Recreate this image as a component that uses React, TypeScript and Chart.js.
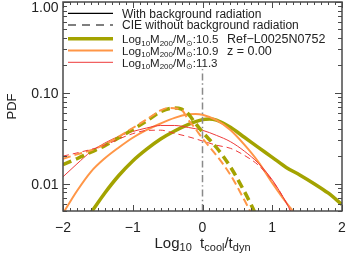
import React, { useEffect, useRef } from "react";
import { Chart, registerables } from "chart.js";
Chart.register(...registerables);

// ---------- data ----------
// thick olive: Log10 M200 = 10.5, with background radiation
const olSolidX = [-1.7, -1.6, -1.4, -1.2, -1.0, -0.8, -0.6, -0.4, -0.2, 0.0, 0.1, 0.2, 0.4, 0.6, 0.8, 1.0, 1.2, 1.4, 1.6, 1.8, 2.0];
const olSolidY = [0.0038, 0.0048, 0.0079, 0.0123, 0.0178, 0.024, 0.031, 0.038, 0.045, 0.0507, 0.0515, 0.050, 0.0417, 0.0324, 0.0251, 0.0195, 0.0151, 0.0124, 0.0100, 0.0079, 0.0059];
// orange: 10.9, with background
const orSolidX = [-2.0, -1.8, -1.6, -1.4, -1.2, -1.0, -0.8, -0.6, -0.4, -0.2, -0.1, 0.0, 0.2, 0.4, 0.6, 0.8, 1.0, 1.2, 1.4];
const orSolidY = [0.0047, 0.0083, 0.0135, 0.019, 0.025, 0.032, 0.039, 0.046, 0.053, 0.058, 0.0586, 0.0575, 0.050, 0.039, 0.0269, 0.0174, 0.0102, 0.0062, 0.004];
// red: 11.3, with background
const rdSolidX = [-2.0, -1.8, -1.6, -1.4, -1.2, -1.0, -0.8, -0.6, -0.4, -0.2, 0.0, 0.2, 0.4, 0.6, 0.8, 1.0, 1.2, 1.3];
const rdSolidY = [0.0119, 0.0165, 0.0225, 0.028, 0.0332, 0.0375, 0.041, 0.0437, 0.0437, 0.0415, 0.0387, 0.034, 0.029, 0.0228, 0.0168, 0.0110, 0.0062, 0.0044];
// CIE without background radiation
const olDashX = [-2.0, -1.8, -1.6, -1.4, -1.2, -1.0, -0.8, -0.6, -0.4, -0.3, -0.2, -0.1, 0.0, 0.2, 0.4, 0.6, 0.7, 0.8];
const olDashY = [0.0162, 0.0188, 0.0222, 0.0262, 0.032, 0.0395, 0.049, 0.062, 0.068, 0.066, 0.058, 0.046, 0.037, 0.025, 0.0153, 0.0082, 0.0058, 0.004];
const orDashX = [-2.0, -1.8, -1.6, -1.4, -1.2, -1.0, -0.8, -0.6, -0.5, -0.4, -0.3, -0.2, -0.1, 0.0, 0.2, 0.4, 0.6, 0.7, 0.8];
const orDashY = [0.0188, 0.021, 0.0233, 0.027, 0.033, 0.041, 0.051, 0.064, 0.068, 0.0675, 0.065, 0.050, 0.040, 0.0315, 0.0205, 0.0125, 0.0066, 0.0047, 0.0032];
const rdDashX = [-2.0, -1.8, -1.6, -1.4, -1.2, -1.0, -0.8, -0.6, -0.4, -0.2, 0.0, 0.2, 0.4, 0.6, 0.8, 1.0, 1.2, 1.3];
const rdDashY = [0.0201, 0.0218, 0.0238, 0.0265, 0.031, 0.0355, 0.0385, 0.0388, 0.0358, 0.0328, 0.0295, 0.0265, 0.0245, 0.0205, 0.0160, 0.0108, 0.0062, 0.0043];
// vertical marker at t_cool/t_dyn = 1
const vLineX = [0, 0];
const vLineY = [0.005, 0.19];

// axes
const xMin = -2, xMax = 2;
const yMin = 0.005, yMax = 1;
const xMajorTicks = [-2, -1, 0, 1, 2];
const xTickLabels = ["\u22122", "\u22121", "0", "1", "2"];
const xMinorStep = 0.1;
const yMajorTicks = [0.01, 0.1, 1];
const yTickLabels = ["0.01", "0.10", "1.00"];
const yMinorMultipliers = [2, 3, 4, 5, 6, 7, 8, 9];

const massLabels = ["10.5", "10.9", "11.3"];
const legendTop = ["With background radiation", "CIE without background radiation"];
const simLabel = "Ref\u2212L0025N0752";
const zLabel = "z = 0.00";

const OLIVE = "#a3a300";
const ORANGE = "#ff9647";
const RED = "#ee3a3a";
const INK = "#222222";
const AXIS = "#4a4a4a";
const FONT = '"Liberation Sans", Arial, Helvetica, sans-serif';

type Part = { t: string; sub?: boolean };

function richWidth(ctx: CanvasRenderingContext2D, parts: Part[], size: number, subSize: number) {
  let w = 0;
  for (const p of parts) {
    ctx.font = `${p.sub ? subSize : size}px ${FONT}`;
    w += ctx.measureText(p.t).width;
  }
  return w;
}
function drawRich(ctx: CanvasRenderingContext2D, parts: Part[], x: number, y: number, size: number, subSize: number, subDy: number) {
  let cx = x;
  ctx.textAlign = "left";
  ctx.textBaseline = "alphabetic";
  for (const p of parts) {
    ctx.font = `${p.sub ? subSize : size}px ${FONT}`;
    ctx.fillText(p.t, cx, p.sub ? y + subDy : y);
    cx += ctx.measureText(p.t).width;
  }
}

const pts = (xs: number[], ys: number[]) => xs.map((x, i) => ({ x, y: ys[i] }));

const decorPlugin = {
  id: "decor",
  afterDraw(chart: any) {
    const ctx: CanvasRenderingContext2D = chart.ctx;
    const { left, right, top, bottom } = chart.chartArea;
    const xs = chart.scales.x;
    const ys = chart.scales.y;
    ctx.save();
    // frame
    ctx.strokeStyle = AXIS;
    ctx.lineWidth = 1.5;
    ctx.setLineDash([]);
    ctx.strokeRect(left, top, right - left, bottom - top);
    // x ticks
    ctx.lineWidth = 1;
    const nMinor = Math.round((xMax - xMin) / xMinorStep);
    for (let i = 0; i <= nMinor; i++) {
      const v = xMin + i * xMinorStep;
      const px = Math.round(xs.getPixelForValue(v)) + 0.5;
      const major = Math.abs(v - Math.round(v)) < 1e-6;
      const len = major ? 6 : 3;
      ctx.beginPath();
      ctx.moveTo(px, bottom);
      ctx.lineTo(px, bottom - len);
      ctx.moveTo(px, top);
      ctx.lineTo(px, top + len);
      ctx.stroke();
    }
    // y ticks
    const yTickVals: { v: number; major: boolean }[] = [];
    for (let d = -3; d <= 0; d++) {
      const base = Math.pow(10, d);
      yTickVals.push({ v: base, major: true });
      for (const m of yMinorMultipliers) yTickVals.push({ v: base * m, major: false });
    }
    for (const t of yTickVals) {
      if (t.v < yMin * 0.999 || t.v > yMax * 1.001) continue;
      const py = Math.round(ys.getPixelForValue(t.v)) + 0.5;
      const len = t.major ? 7 : 4;
      ctx.beginPath();
      ctx.moveTo(left, py);
      ctx.lineTo(left + len, py);
      ctx.moveTo(right, py);
      ctx.lineTo(right - len, py);
      ctx.stroke();
    }
    // tick labels
    ctx.fillStyle = INK;
    ctx.font = `14px ${FONT}`;
    ctx.textAlign = "center";
    ctx.textBaseline = "alphabetic";
    xMajorTicks.forEach((v, i) => {
      ctx.fillText(xTickLabels[i], xs.getPixelForValue(v), 232);
    });
    ctx.textAlign = "right";
    yMajorTicks.forEach((v, i) => {
      const py = Math.max(ys.getPixelForValue(v) + 5.5, 11.8);
      ctx.fillText(yTickLabels[i], left - 4.5, py);
    });
    // y title
    ctx.save();
    ctx.translate(12, (top + bottom) / 2);
    ctx.rotate(-Math.PI / 2);
    ctx.font = `13px ${FONT}`;
    ctx.textAlign = "center";
    ctx.textBaseline = "middle";
    ctx.fillText("PDF", 0, 0);
    ctx.restore();
    // x title
    const xt: Part[] = [
      { t: "Log" }, { t: "10", sub: true }, { t: "  t" }, { t: "cool", sub: true },
      { t: "/t" }, { t: "dyn", sub: true },
    ];
    const w = richWidth(ctx, xt, 15, 11);
    drawRich(ctx, xt, (left + right) / 2 - w / 2, 248, 15, 11, 3);

    // legend
    const rows = [13.3, 25, 38.8, 50.6, 62.3];
    const lx1 = 68, lx2 = 113, tx = 122;
    const styles = [
      { c: "#000", w: 1.2, d: [] as number[] },
      { c: "#000", w: 1.2, d: [8, 6] },
      { c: OLIVE, w: 3.5, d: [] },
      { c: ORANGE, w: 2, d: [] },
      { c: RED, w: 1, d: [] },
    ];
    styles.forEach((s, i) => {
      ctx.strokeStyle = s.c;
      ctx.lineWidth = s.w;
      ctx.setLineDash(s.d);
      ctx.beginPath();
      ctx.moveTo(lx1, rows[i]);
      ctx.lineTo(lx2, rows[i]);
      ctx.stroke();
    });
    ctx.setLineDash([]);
    ctx.fillStyle = INK;
    ctx.font = `12px ${FONT}`;
    ctx.textAlign = "left";
    ctx.textBaseline = "alphabetic";
    legendTop.forEach((t, i) => ctx.fillText(t, tx, rows[i] + 4.3));
    massLabels.forEach((m, i) => {
      const parts: Part[] = [
        { t: "Log" }, { t: "10", sub: true }, { t: "M" }, { t: "200", sub: true },
        { t: "/M" }, { t: "\u2299", sub: true }, { t: ":" + m },
      ];
      drawRich(ctx, parts, tx, rows[2 + i] + 4.2, 11.5, 8, 2.5);
    });
    ctx.font = `12.5px ${FONT}`;
    ctx.fillText(simLabel, 227, rows[2] + 4.3);
    ctx.fillText(zLabel, 227, rows[3] + 4.3);
    ctx.restore();
  },
};

export default function App() {
  const ref = useRef<HTMLCanvasElement | null>(null);
  useEffect(() => {
    if (!ref.current) return;
    const base = { pointRadius: 0, fill: false, cubicInterpolationMode: "monotone" as const, borderCapStyle: "butt" as const };
    const chart = new Chart(ref.current, {
      type: "line",
      data: {
        datasets: [
          { ...base, label: "vline", data: pts(vLineX, vLineY), borderColor: "#8a8a8a", borderWidth: 1.5, borderDash: [7, 3, 1.5, 3] },
          { ...base, label: "rd dash", data: pts(rdDashX, rdDashY), borderColor: RED, borderWidth: 1, borderDash: [6, 4] },
          { ...base, label: "or dash", data: pts(orDashX, orDashY), borderColor: ORANGE, borderWidth: 2, borderDash: [8, 4] },
          { ...base, label: "ol dash", data: pts(olDashX, olDashY), borderColor: OLIVE, borderWidth: 3.5, borderDash: [9, 5] },
          { ...base, label: "rd", data: pts(rdSolidX, rdSolidY), borderColor: RED, borderWidth: 1 },
          { ...base, label: "or", data: pts(orSolidX, orSolidY), borderColor: ORANGE, borderWidth: 2 },
          { ...base, label: "ol", data: pts(olSolidX, olSolidY), borderColor: OLIVE, borderWidth: 3.5 },
        ],
      },
      options: {
        animation: false,
        responsive: false,
        events: [],
        layout: { padding: { left: 63, right: 7, top: 2, bottom: 43 } },
        scales: {
          x: { type: "linear", min: xMin, max: xMax, display: false },
          y: { type: "logarithmic", min: yMin, max: yMax, display: false },
        },
        plugins: { legend: { display: false }, tooltip: { enabled: false } },
      },
      plugins: [decorPlugin],
    });
    return () => chart.destroy();
  }, []);
  return (
    <div style={{ position: "absolute", left: 0, top: 0, width: 349, height: 254, background: "#fff" }}>
      <canvas ref={ref} width={349} height={254} style={{ width: 349, height: 254, display: "block" }} />
    </div>
  );
}
